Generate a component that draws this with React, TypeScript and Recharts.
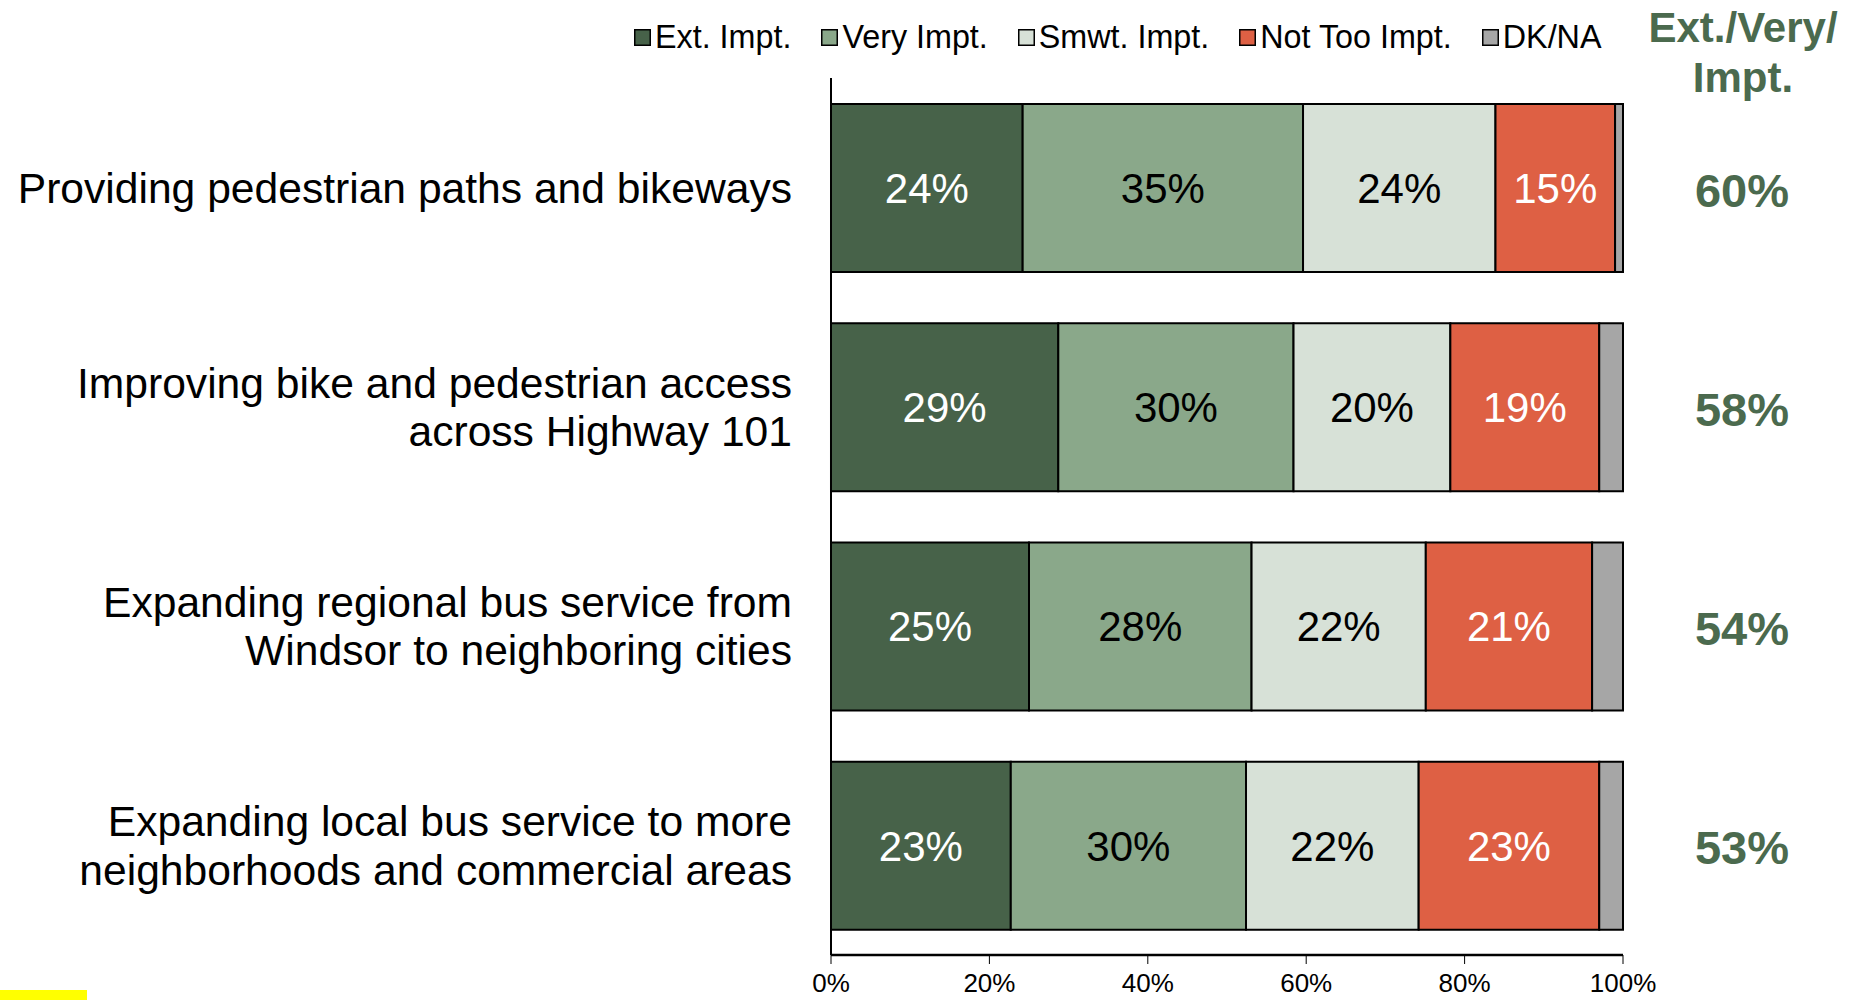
import React from 'react';
import { BarChart, Bar, XAxis, YAxis, Legend, LabelList } from 'recharts';

const categories = [
  'Providing pedestrian paths and bikeways',
  'Improving bike and pedestrian access|across Highway 101',
  'Expanding regional bus service from|Windsor to neighboring cities',
  'Expanding local bus service to more|neighborhoods and commercial areas',
];
const extImpt = [24.2, 28.7, 25.0, 22.7];
const veryImpt = [35.4, 29.7, 28.1, 29.7];
const smwtImpt = [24.3, 19.8, 22.0, 21.8];
const notTooImpt = [15.1, 18.8, 21.0, 22.8];
const dkna = [1.0, 3.0, 3.9, 3.0];
const netImpt = [60, 58, 54, 53];
const xTicks = [0, 20, 40, 60, 80, 100];

const series = [
  { key: 'ext', name: 'Ext. Impt.', color: '#476249', text: '#ffffff' },
  { key: 'very', name: 'Very Impt.', color: '#8aa88a', text: '#000000' },
  { key: 'smwt', name: 'Smwt. Impt.', color: '#d7e1d7', text: '#000000' },
  { key: 'notToo', name: 'Not Too Impt.', color: '#de6044', text: '#ffffff' },
  { key: 'dk', name: 'DK/NA', color: '#a6a6a6', text: '' },
];

const data = categories.map((name, i) => ({
  name,
  ext: extImpt[i],
  very: veryImpt[i],
  smwt: smwtImpt[i],
  notToo: notTooImpt[i],
  dk: dkna[i],
  net: netImpt[i],
}));

const FONT = '"Liberation Sans", Arial, sans-serif';
const NET_COLOR = '#4b6a4e';

const CategoryTick = (props: any) => {
  const { y, payload } = props;
  const lines = String(payload.value).split('|');
  const lh = 48.5;
  const start = y - ((lines.length - 1) * lh) / 2;
  return (
    <text x={792} y={start} textAnchor="end" fontFamily={FONT} fontSize={42.6} fill="#000" dominantBaseline="central">
      {lines.map((l, i) => (
        <tspan key={i} x={792} y={start + i * lh}>
          {l}
        </tspan>
      ))}
    </text>
  );
};

const NetLabel = (props: any) => {
  const { x, y, width, height, index } = props;
  return (
    <text
      x={x + width + 119}
      y={y + height / 2 + 2}
      textAnchor="middle"
      dominantBaseline="central"
      fontFamily={FONT}
      fontWeight="bold"
      fontSize={47}
      fill={NET_COLOR}
    >
      {netImpt[index]}%
    </text>
  );
};

const LegendContent = () => (
  <div style={{ display: 'flex', alignItems: 'center', fontFamily: FONT, fontSize: 32.3, color: '#000' }}>
    {series.map((s) => (
      <div key={s.key} style={{ display: 'flex', alignItems: 'center', marginRight: 30 }}>
        <svg width={17} height={17} style={{ marginRight: 4 }}>
          <rect x={0.75} y={0.75} width={15.5} height={15.5} fill={s.color} stroke="#000" strokeWidth={1.5} />
        </svg>
        <span style={{ whiteSpace: 'nowrap' }}>{s.name}</span>
      </div>
    ))}
  </div>
);

const App = () => {
  return (
    <div style={{ position: 'absolute', left: 0, top: 0, width: 1858, height: 1000, background: '#fff' }}>
      <BarChart
        width={1858}
        height={1000}
        data={data}
        layout="vertical"
        barSize={168}
        margin={{ top: 78, right: 235, bottom: 5, left: 0 }}
      >
        <XAxis
          type="number"
          domain={[0, 100]}
          ticks={xTicks}
          tickFormatter={(v) => `${v}%`}
          axisLine={{ stroke: '#000', strokeWidth: 2.5 }}
          tickLine={{ stroke: '#000', strokeWidth: 1 }}
          tickSize={9}
          tickMargin={10}
          height={40}
          tick={{ fontFamily: FONT, fontSize: 26, fill: '#000' }}
          interval={0}
        />
        <YAxis
          type="category"
          dataKey="name"
          width={831}
          axisLine={{ stroke: '#000', strokeWidth: 2 }}
          tickLine={false}
          tick={<CategoryTick />}
          interval={0}
        />
        <Legend
          verticalAlign="middle"
          align="center"
          layout="horizontal"
          content={<LegendContent />}
          wrapperStyle={{ position: 'absolute', top: 19, left: 634, width: 1000, height: 38 }}
        />
        {series.map((s) => (
          <Bar
            key={s.key}
            dataKey={s.key}
            name={s.name}
            stackId="a"
            fill={s.color}
            stroke="#000"
            strokeWidth={2}
            isAnimationActive={false}
          >
            {s.key !== 'dk' && (
              <LabelList
                dataKey={s.key}
                position="center"
                formatter={(v: any) => `${Math.round(Number(v))}%`}
                fill={s.text}
                fontFamily={FONT}
                fontSize={42}
              />
            )}
            {s.key === 'dk' && <LabelList dataKey="net" content={<NetLabel />} />}
          </Bar>
        ))}
      </BarChart>
      <div
        style={{
          position: 'absolute',
          left: 1643,
          top: 3,
          width: 200,
          textAlign: 'center',
          fontFamily: FONT,
          fontWeight: 'bold',
          fontSize: 42,
          lineHeight: '50px',
          color: NET_COLOR,
        }}
      >
        Ext./Very/
        <br />
        Impt.
      </div>
      <div style={{ position: 'absolute', left: 0, top: 990, width: 87, height: 10, background: '#ffff00' }} />
    </div>
  );
};

export default App;
